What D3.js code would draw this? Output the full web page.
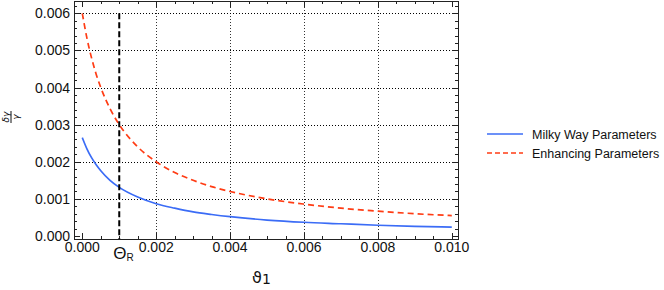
<!DOCTYPE html>
<html><head><meta charset="utf-8">
<script src="https://cdn.jsdelivr.net/npm/d3@7"></script>
<style>body{margin:0;background:#fff}svg{display:block}</style>
</head><body><svg id="c" width="664" height="290"></svg>
<script>
const xs = [0, 0.000125, 0.00025, 0.000375, 0.0005, 0.00075, 0.001, 0.0015, 0.002, 0.0025, 0.003, 0.0035, 0.004, 0.005, 0.006, 0.007, 0.008, 0.009, 0.010];
const milkyWay = [0.00265, 0.00235, 0.00211, 0.00192, 0.00176, 0.00150, 0.00131, 0.00105, 0.00087, 0.00075, 0.00065, 0.00058, 0.00052, 0.00043, 0.00037, 0.00033, 0.00029, 0.00026, 0.00024];
const enhancing = [0.00600, 0.00533, 0.00480, 0.00436, 0.00400, 0.00343, 0.00300, 0.00240, 0.00200, 0.00171, 0.00150, 0.00133, 0.00120, 0.00100, 0.00086, 0.00075, 0.00067, 0.00060, 0.00055];
const xTicks = [0, 0.002, 0.004, 0.006, 0.008, 0.010];
const yTicks = [0, 0.001, 0.002, 0.003, 0.004, 0.005, 0.006];
const thetaR = 0.001;
const seriesNames = ["Milky Way Parameters", "Enhancing Parameters"];

const svg = d3.select("#c");
const F = {l: 74, r: 458, t: 1, b: 239};
const x = d3.scaleLinear().domain([0, 0.010]).range([82.3, 451.8]);
const y = d3.scaleLinear().domain([0, 0.006]).range([236, 13.3]);
const font = "'Liberation Sans', Arial, sans-serif";

// grid
const g = svg.append("g");
g.selectAll(".gx").data(xTicks.filter(d => d > 0 && d < 0.010)).join("line")
  .attr("x1", d => Math.round(x(d)) + 0.5).attr("x2", d => Math.round(x(d)) + 0.5).attr("y1", F.t).attr("y2", F.b)
  .attr("stroke", "#333").attr("stroke-width", 1).attr("stroke-dasharray", "1,2");
g.selectAll(".gy").data(yTicks.filter(d => d > 0)).join("line")
  .attr("x1", F.l).attr("x2", F.r).attr("y1", d => Math.round(y(d)) + 0.5).attr("y2", d => Math.round(y(d)) + 0.5)
  .attr("stroke", "#000").attr("stroke-width", 1).attr("stroke-dasharray", "1,2");

// ticks (inward, on all four sides)
const xMinor = d3.range(0, 0.01001, 0.0005);
const yMinor = d3.range(0, 0.00621, 0.0002);
const isMajX = d => Math.abs(Math.round(d / 0.002) * 0.002 - d) < 1e-9;
const isMajY = d => Math.abs(Math.round(d / 0.001) * 0.001 - d) < 1e-9;
const tk = svg.append("g").attr("stroke", "#222").attr("stroke-width", 1);
xMinor.forEach(d => {
  const L = isMajX(d) ? 6 : 3;
  const px = Math.round(x(d)) + 0.5;
  tk.append("line").attr("x1", px).attr("x2", px).attr("y1", F.b).attr("y2", F.b - L);
  tk.append("line").attr("x1", px).attr("x2", px).attr("y1", F.t).attr("y2", F.t + L);
});
yMinor.forEach(d => {
  const L = isMajY(d) ? 6 : 3;
  const py = Math.round(y(d)) + 0.5;
  tk.append("line").attr("x1", F.l).attr("x2", F.l + L).attr("y1", py).attr("y2", py);
  tk.append("line").attr("x1", F.r).attr("x2", F.r - L).attr("y1", py).attr("y2", py);
});

// curves
const line = d3.line().x(d => x(d[0])).y(d => y(d[1])).curve(d3.curveMonotoneX);
svg.append("path").datum(xs.map((v, i) => [v, milkyWay[i]]))
  .attr("d", line).attr("fill", "none").attr("stroke", "#3b6cf6").attr("stroke-width", 1.7);
svg.append("path").datum(xs.map((v, i) => [v, enhancing[i]]))
  .attr("d", line).attr("fill", "none").attr("stroke", "#ff3c14").attr("stroke-width", 1.7)
  .attr("stroke-dasharray", "6,4");

// Theta_R dashed line
svg.append("line").attr("x1", x(thetaR)).attr("x2", x(thetaR))
  .attr("y1", y(0.006)).attr("y2", F.b)
  .attr("stroke", "#000").attr("stroke-width", 2).attr("stroke-dasharray", "6,3");

// frame
svg.append("rect").attr("x", F.l + 0.5).attr("y", F.t + 0.5)
  .attr("width", F.r - F.l).attr("height", F.b - F.t)
  .attr("fill", "none").attr("stroke", "#222").attr("stroke-width", 1);

// tick labels
const fmt = d3.format(".3f");
svg.append("g").selectAll("text").data(xTicks).join("text")
  .attr("x", d => x(d)).attr("y", 252).attr("text-anchor", "middle")
  .attr("font-family", font).attr("font-size", 14).attr("fill", "#111").text(fmt);
svg.append("g").selectAll("text").data(yTicks).join("text")
  .attr("x", 70).attr("y", d => y(d) + 5).attr("text-anchor", "end")
  .attr("font-family", font).attr("font-size", 14).attr("fill", "#111").text(fmt);

// Theta_R label
const tr = svg.append("text").attr("x", x(thetaR) - 6).attr("y", 259)
  .attr("font-family", font).attr("font-size", 17).attr("fill", "#111");
tr.append("tspan").text("Θ");
tr.append("tspan").attr("font-size", 10).attr("dy", 2).text("R");

// x axis label
const xl = svg.append("text").attr("x", 252).attr("y", 283)
  .attr("font-family", "'DejaVu Sans', sans-serif").attr("font-size", 16).attr("fill", "#111");
xl.append("tspan").text("ϑ");
xl.append("tspan").attr("font-size", 14).attr("dy", 1).text("1");

// y axis label (rotated fraction)
const yl = svg.append("g").attr("transform", "translate(13,117) rotate(-90)");
yl.append("text").attr("x", 0).attr("y", -4).attr("text-anchor", "middle")
  .attr("font-family", "'DejaVu Sans', sans-serif").attr("font-style", "italic").attr("font-size", 9).attr("fill", "#111").text("δγ");
yl.append("line").attr("x1", -6).attr("x2", 6).attr("y1", -2).attr("y2", -2).attr("stroke", "#111").attr("stroke-width", 1);
yl.append("text").attr("x", 0).attr("y", 6).attr("text-anchor", "middle")
  .attr("font-family", "'DejaVu Sans', sans-serif").attr("font-style", "italic").attr("font-size", 9).attr("fill", "#111").text("γ");

// legend
const lg = svg.append("g").attr("font-family", font).attr("font-size", 12.5).attr("fill", "#111");
const lgStyles = [{c: "#3b6cf6", dash: null}, {c: "#ff3c14", dash: "5,3"}];
seriesNames.forEach((n, i) => {
  const yy = 134 + i * 19;
  const ln = lg.append("line").attr("x1", 487).attr("x2", 523).attr("y1", yy).attr("y2", yy)
    .attr("stroke", lgStyles[i].c).attr("stroke-width", 1.6);
  if (lgStyles[i].dash) ln.attr("stroke-dasharray", lgStyles[i].dash);
  lg.append("text").attr("x", 532).attr("y", yy + 4.5).text(n);
});
</script></body></html>
